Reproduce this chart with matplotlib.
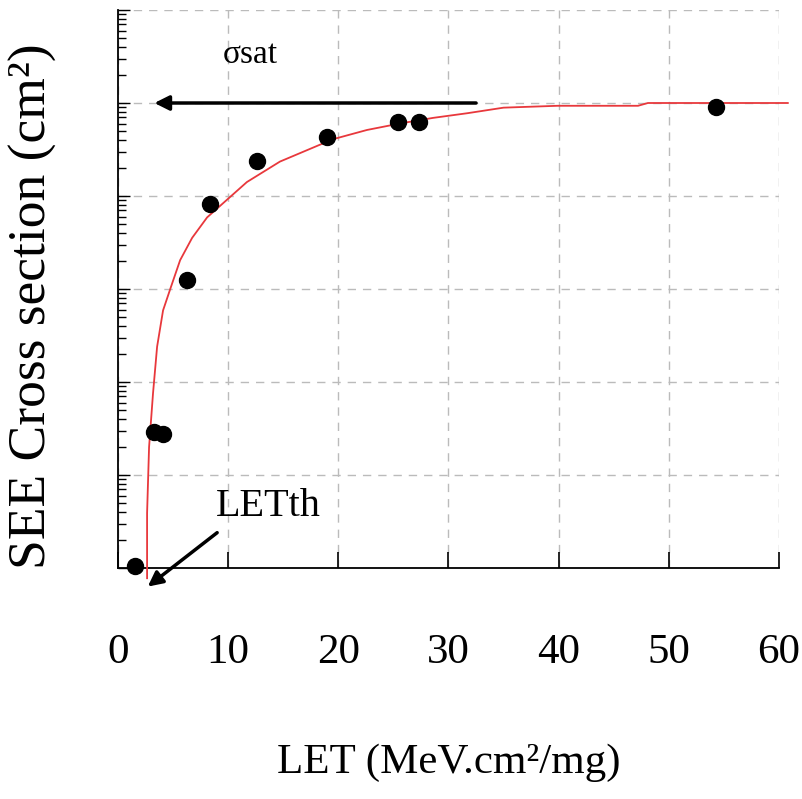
import numpy as np
import matplotlib
matplotlib.use('Agg')
import matplotlib.pyplot as plt
from matplotlib.ticker import LogLocator, NullFormatter

plt.rcParams['font.family'] = ['Liberation Serif', 'DejaVu Serif']

# measured points (LET, cross section)
let_pts = [1.55, 3.27, 4.09, 6.27, 8.36, 12.6, 19.0, 25.4, 27.3, 54.3]
sigma_pts = [1.05e-7, 2.9e-6, 2.75e-6, 1.25e-4, 8.2e-4, 2.4e-3, 4.3e-3, 6.3e-3, 6.3e-3, 9.0e-3]

# fitted curve
fit_let = [2.64, 2.64, 2.82, 3.18, 3.55, 4.09, 4.8, 5.64, 6.73, 8.09, 10.18, 11.7,
           13.2, 14.7, 16.5, 19.5, 22.6, 25.6, 28.6, 31.7, 35.0, 39.9, 47.2, 48.1, 60.8]
fit_log = [-7.11, -6.41, -5.70, -5.12, -4.62, -4.23, -3.98, -3.69, -3.45, -3.23, -3.01, -2.85,
           -2.74, -2.63, -2.54, -2.39, -2.29, -2.22, -2.16, -2.11, -2.05, -2.03, -2.03, -2.0, -2.0]
fit_sigma = [10 ** v for v in fit_log]

xticks = [0, 10, 20, 30, 40, 50, 60]

fig = plt.figure(figsize=(8.03, 7.99), dpi=100)
ax = fig.add_axes([118 / 803, 1 - 568 / 799, 661 / 803, 558 / 799])

ax.set_yscale('log')
ax.set_xlim(0, 60)
ax.set_ylim(1e-7, 1e-1)

ax.plot(fit_let, fit_sigma, color='#e8383c', lw=1.3, clip_on=False, zorder=3)
ax.plot(let_pts, sigma_pts, 'o', color='black', ms=11.5, clip_on=False, zorder=4)

# saturation arrow + label
ax.annotate('', xy=(3.3, 1e-2), xytext=(32.5, 1e-2),
            arrowprops=dict(arrowstyle='-|>', color='black', lw=2.5,
                            mutation_scale=22, shrinkA=0, shrinkB=0))
ax.text(12.0, 10 ** -1.48, 'σsat', fontsize=24, ha='center', va='center')

# threshold arrow + label
ax.annotate('', xy=(2.7, 10 ** -7.2), xytext=(9.0, 10 ** -6.62),
            arrowprops=dict(arrowstyle='-|>', color='black', lw=2.5,
                            mutation_scale=22, shrinkA=0, shrinkB=0),
            annotation_clip=False)
ax.text(13.6, 10 ** -6.34, 'LETth', fontsize=29, ha='center', va='center')

ax.set_xticks(xticks)
ax.set_xticklabels([str(t) for t in xticks], fontsize=31)
ax.yaxis.set_major_locator(LogLocator(base=10, numticks=20))
ax.yaxis.set_minor_locator(LogLocator(base=10, subs=np.arange(2, 10), numticks=20))
ax.yaxis.set_major_formatter(NullFormatter())
ax.yaxis.set_minor_formatter(NullFormatter())

ax.tick_params(axis='x', direction='in', length=11.5, width=1.2, pad=47, top=False)
ax.tick_params(axis='y', which='major', direction='in', length=8.5, width=1.0, right=False)
ax.tick_params(axis='y', which='minor', direction='in', length=6, width=1.0, right=False)

ax.grid(True, which='major', color='#bbbbbb', linestyle=(0, (6, 5)), lw=1.0)
for s in ('top', 'right'):
    ax.spines[s].set_visible(False)
for s in ('left', 'bottom'):
    ax.spines[s].set_linewidth(1.3)

ax.set_xlabel('LET (MeV.cm²/mg)', fontsize=31, labelpad=52)
ax.set_ylabel('SEE Cross section (cm²)', fontsize=38.5)
ax.yaxis.set_label_coords(-0.092, 0.47)

fig.savefig('out.png', dpi=100)
